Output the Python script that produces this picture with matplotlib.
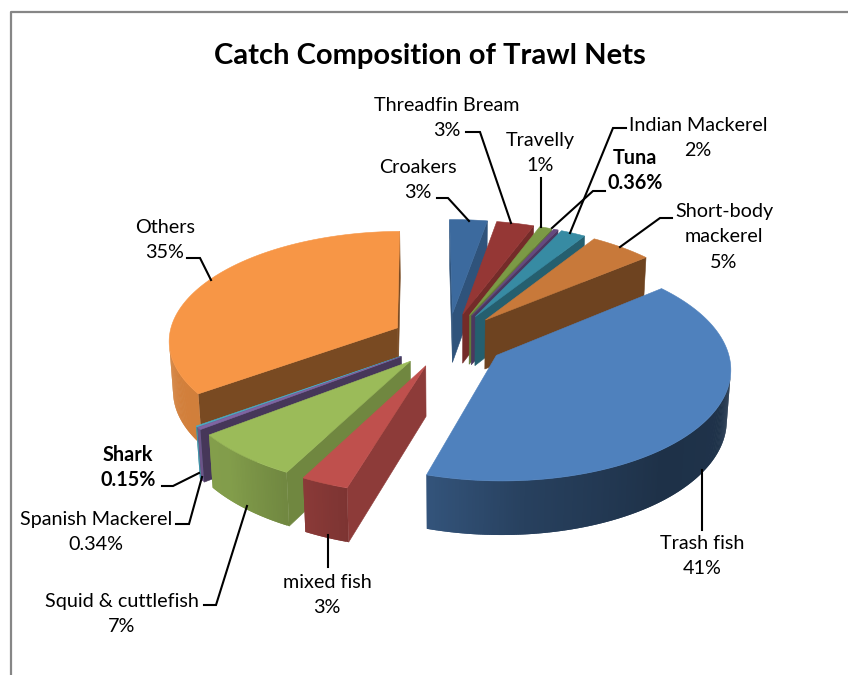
import numpy as np
import matplotlib
matplotlib.use('Agg')
import matplotlib.pyplot as plt
from matplotlib.colors import to_rgb
from matplotlib.patches import Polygon

names = ['Croakers', 'Threadfin Bream', 'Travelly', 'Tuna', 'Indian Mackerel',
         'Short-body\nmackerel', 'Trash fish', 'mixed fish', 'Squid & cuttlefish',
         'Spanish Mackerel', 'Shark', 'Others']
values = [3, 3, 1, 0.36, 2, 5, 41, 3, 7, 0.34, 0.15, 35]

colors = ['#3c6a9e', '#953735', '#7b9a45', '#65497f', '#378ba3', '#c8793a',
          '#4f81bd', '#bf504d', '#9bbb59', '#8064a2', '#4bacc6', '#f79646']
# how dark the cut faces of each slice are
face_shade = [0.78, 0.78, 0.8, 0.75, 0.68, 0.55, 0.7, 0.74, 0.72, 0.55, 0.6, 0.49]

# label text position (centre) and leader line, in pixels
label_xy = [(418, 179), (447, 117), (540, 152), (635, 170), (698, 137), (724, 236),
            (702, 555), (327, 594), (122, 613), (96, 531), (128, 467), (165, 239)]
leaders = [
    [(437, 198), (448, 198), (469, 221)],
    [(466, 132), (480, 132), (511, 223)],
    [(541, 178), (541, 227)],
    [(605, 191), (593, 191), (552, 228)],
    [(626, 128), (613, 128), (570, 233)],
    [(672, 218), (660, 218), (620, 247)],
    [(702, 470), (702, 530)],
    [(328, 535), (328, 567)],
    [(204, 605), (216, 605), (247, 506)],
    [(176, 524), (189, 524), (202, 477)],
    [(162, 486), (173, 486), (199, 473)],
    [(187, 258), (200, 258), (211, 280)],
]
bold = ['Tuna', 'Shark']

# camera and pie geometry
x0, y0 = 448, 340
elev = np.radians(28.4)
dist = 8.4
focal = 1925
thick = 0.25
explode = 0.25
start_angle = -0.7
cam = np.array([0, -dist * np.cos(elev), dist * np.sin(elev)])


def project(x, y, z):
    c, s = np.cos(elev), np.sin(elev)
    d = dist + y * c - z * s
    return x0 + focal * x / d, y0 - focal * (y * s + z * c) / d


def shade(col, f):
    return tuple(np.clip(np.array(to_rgb(col)) * f, 0, 1))


def wall_shade(t):
    return np.interp(t, [0, 100, 140, 175, 198, 225, 260, 360],
                     [0.85, 0.4, 0.38, 0.5, 0.66, 0.84, 0.86, 0.86])


fig = plt.figure(figsize=(8.48, 6.75), dpi=100)
ax = fig.add_axes([0, 0, 1, 1])
ax.set_xlim(0, 848)
ax.set_ylim(675, 0)
ax.axis('off')
plt.rcParams['font.family'] = ['Lato', 'DejaVu Sans']

# chart frame, open at the right and bottom
ax.plot([10.5, 10.5, 848], [675, 11.5, 11.5], color='#868686', lw=1.6, solid_capstyle='butt')

total = sum(values)
edges = np.concatenate([[0], np.cumsum(values)]) / total * 360 + start_angle


def add_poly(pts, col, z, lw=0.4):
    ax.add_patch(Polygon(pts, closed=True, facecolor=col, edgecolor=col if lw else 'none',
                         lw=lw, zorder=z))


# back slices first, then round to the front
draw_order = [0, 1, 2, 3, 4, 5, 11, 10, 9, 8, 7, 6]
for z, i in enumerate(draw_order):
    a0, a1 = edges[i], edges[i + 1]
    mid = np.radians((a0 + a1) / 2)
    ox, oy = explode * np.sin(mid), explode * np.cos(mid)
    tt = np.linspace(a0, a1, max(int(a1 - a0) * 2, 2) + 1)
    rad = np.radians(tt)
    xs, ys = ox + np.sin(rad), oy + np.cos(rad)

    # cut faces along the two radii
    for ang, sign in ((a0, -1), (a1, 1)):
        r = np.radians(ang)
        normal = sign * np.array([np.cos(r), -np.sin(r), 0])
        if normal @ (cam - np.array([ox, oy, 0])) <= 0:
            continue
        ex, ey = ox + np.sin(r), oy + np.cos(r)
        pts = [project(ox, oy, 0), project(ex, ey, 0),
               project(ex, ey, -thick), project(ox, oy, -thick)]
        add_poly(pts, shade(colors[i], face_shade[i]), z * 10 + 1)

    # outer wall in narrow strips, each one running under the next to hide the joins
    n = len(tt) - 1
    for k in range(n):
        r = (rad[k] + rad[k + 1]) / 2
        normal = np.array([np.sin(r), np.cos(r), 0])
        if normal @ (cam - np.array([xs[k], ys[k], 0])) <= 0:
            continue
        e = min(k + 2, n)
        pts = [project(xs[k], ys[k], 0), project(xs[e], ys[e], 0),
               project(xs[e], ys[e], -thick), project(xs[k], ys[k], -thick)]
        add_poly(pts, shade(colors[i], wall_shade((tt[k] + tt[k + 1]) / 2)), z * 10 + 2, lw=0)

    top = [project(ox, oy, 0)] + [project(a, b, 0) for a, b in zip(xs, ys)]
    add_poly(top, colors[i], z * 10 + 3)

line_step = 25.3
for i, name in enumerate(names):
    lines = name.split('\n') + [f'{values[i]:g}%']
    base = label_xy[i][1] - line_step * (len(lines) - 1) / 2 + 6.5
    for j, line in enumerate(lines):
        ax.text(label_xy[i][0], base + j * line_step, line, ha='center', va='baseline',
                fontsize=14.2, color='black',
                fontweight='bold' if name in bold else 'normal', zorder=200)
    lx, ly = zip(*leaders[i])
    ax.plot(lx, ly, color='black', lw=1.5, zorder=190, solid_joinstyle='miter')

ax.text(430, 56, 'Catch Composition of Trawl Nets', ha='center', va='center',
        fontsize=21, fontweight='bold', color='black')

fig.savefig('out.png', dpi=100)
